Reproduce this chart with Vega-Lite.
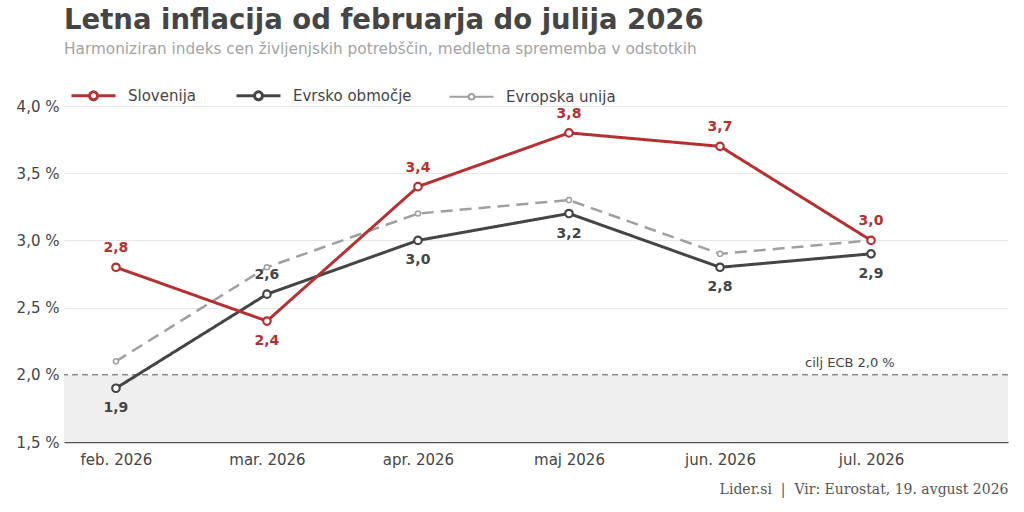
{
  "$schema": "https://vega.github.io/schema/vega-lite/v6.json",
  "width": 944,
  "height": 336,
  "autosize": {"type": "none"},
  "padding": {"left": 64, "top": 106, "right": 16, "bottom": 70},
  "title": {
    "text": "Letna inflacija od februarja do julija 2026",
    "subtitle": "Harmoniziran indeks cen življenjskih potrebščin, medletna sprememba v odstotkih",
    "anchor": "start",
    "frame": "group",
    "font": "DejaVu Sans",
    "fontSize": 27.5,
    "fontWeight": "bold",
    "color": "#454545",
    "subtitleFont": "DejaVu Sans",
    "subtitleFontSize": 15.3,
    "subtitleColor": "#a3a3a3",
    "subtitlePadding": 7,
    "offset": 31
  },
  "config": {
    "view": {"stroke": null},
    "font": "DejaVu Sans",
    "locale": {
      "number": {"decimal": ",", "thousands": ".", "grouping": [3], "currency": ["", " €"]}
    }
  },
  "datasets": {
    "series": [
      {"series": "Evropska unija", "month": "feb. 2026", "i": 0, "v": 2.1},
      {"series": "Evropska unija", "month": "mar. 2026", "i": 1, "v": 2.8},
      {"series": "Evropska unija", "month": "apr. 2026", "i": 2, "v": 3.2},
      {"series": "Evropska unija", "month": "maj 2026", "i": 3, "v": 3.3},
      {"series": "Evropska unija", "month": "jun. 2026", "i": 4, "v": 2.9},
      {"series": "Evropska unija", "month": "jul. 2026", "i": 5, "v": 3.0},
      {"series": "Evrsko območje", "month": "feb. 2026", "i": 0, "v": 1.9},
      {"series": "Evrsko območje", "month": "mar. 2026", "i": 1, "v": 2.6},
      {"series": "Evrsko območje", "month": "apr. 2026", "i": 2, "v": 3.0},
      {"series": "Evrsko območje", "month": "maj 2026", "i": 3, "v": 3.2},
      {"series": "Evrsko območje", "month": "jun. 2026", "i": 4, "v": 2.8},
      {"series": "Evrsko območje", "month": "jul. 2026", "i": 5, "v": 2.9},
      {"series": "Slovenija", "month": "feb. 2026", "i": 0, "v": 2.8},
      {"series": "Slovenija", "month": "mar. 2026", "i": 1, "v": 2.4},
      {"series": "Slovenija", "month": "apr. 2026", "i": 2, "v": 3.4},
      {"series": "Slovenija", "month": "maj 2026", "i": 3, "v": 3.8},
      {"series": "Slovenija", "month": "jun. 2026", "i": 4, "v": 3.7},
      {"series": "Slovenija", "month": "jul. 2026", "i": 5, "v": 3.0}
    ],
    "band": [{"lo": 1.5, "hi": 2.0, "note": "cilj ECB 2,0 %", "nx": 4.86}]
  },
  "layer": [
    {
      "data": {"name": "band"},
      "mark": {"type": "rect", "fill": "#efefef"},
      "encoding": {
        "y": {"field": "lo", "type": "quantitative", "scale": {"domain": [1.5, 4.0]}},
        "y2": {"field": "hi"}
      }
    },
    {
      "data": {"name": "band"},
      "mark": {"type": "rule", "stroke": "#555555", "strokeWidth": 1, "strokeDash": [6, 4]},
      "encoding": {
        "y": {"field": "hi", "type": "quantitative"}
      }
    },
    {
      "data": {"name": "band"},
      "mark": {"type": "text", "fontSize": 13, "color": "#454545", "align": "center", "baseline": "bottom", "dy": -5},
      "encoding": {
        "x": {"field": "nx", "type": "quantitative"},
        "y": {"field": "hi", "type": "quantitative"},
        "text": {"field": "note"}
      }
    },
    {
      "data": {"name": "series"},
      "mark": {"type": "line", "strokeCap": "butt", "strokeJoin": "round"},
      "encoding": {
        "x": {
          "field": "i",
          "type": "quantitative",
          "scale": {"domain": [-0.344, 5.907], "nice": false, "zero": false},
          "axis": {
            "values": [0, 1, 2, 3, 4, 5],
            "labelExpr": "['feb. 2026','mar. 2026','apr. 2026','maj 2026','jun. 2026','jul. 2026'][datum.value]",
            "grid": false,
            "ticks": false,
            "domainColor": "#555555",
            "domainWidth": 1.5,
            "labelFontSize": 15,
            "labelColor": "#454545",
            "labelPadding": 10,
            "title": "Lider.si\u00a0\u00a0|\u00a0\u00a0Vir: Eurostat, 19. avgust 2026",
            "titleAnchor": "end",
            "titleFont": "DejaVu Serif",
            "titleFontSize": 14,
            "titleFontWeight": "normal",
            "titleColor": "#555555",
            "titlePadding": 15
          }
        },
        "y": {
          "field": "v",
          "type": "quantitative",
          "scale": {"domain": [1.5, 4.0], "nice": false, "zero": false},
          "axis": {
            "values": [1.5, 2.0, 2.5, 3.0, 3.5, 4.0],
            "format": ".1f",
            "labelExpr": "datum.label + ' %'",
            "domain": false,
            "ticks": false,
            "gridColor": "#e6e6e6",
            "gridWidth": 1,
            "labelFontSize": 15,
            "labelColor": "#454545",
            "labelPadding": 5,
            "title": null
          }
        },
        "color": {
          "field": "series",
          "type": "nominal",
          "scale": {
            "domain": ["Slovenija", "Evrsko območje", "Evropska unija"],
            "range": ["#b53131", "#454545", "#a0a0a0"]
          },
          "legend": {
            "title": null,
            "orient": "none",
            "legendX": 22,
            "legendY": -18,
            "direction": "horizontal",
            "symbolType": "M-1,0H-0.18M0.18,0H1M-0.18,0A0.18,0.18,0,1,1,0.18,0A0.18,0.18,0,1,1,-0.18,0",
            "symbolSize": 1936,
            "symbolStrokeWidth": 3,
            "symbolFillColor": "white",
            "labelFontSize": 15,
            "labelColor": "#454545",
            "labelOffset": 27,
            "columnPadding": 33,
            "encode": {
              "symbols": {
                "update": {
                  "shape": {"signal": "datum.value === 'Evropska unija' ? 'M-1,0H-0.13M0.13,0H1M-0.13,0A0.13,0.13,0,1,1,0.13,0A0.13,0.13,0,1,1,-0.13,0' : 'M-1,0H-0.18M0.18,0H1M-0.18,0A0.18,0.18,0,1,1,0.18,0A0.18,0.18,0,1,1,-0.18,0'"},
                  "strokeWidth": {"signal": "datum.value === 'Evropska unija' ? 2 : 3"}
                }
              }
            }
          }
        },
        "strokeWidth": {
          "condition": {"test": "datum.series === 'Evropska unija'", "value": 2.5},
          "value": 3
        },
        "strokeDash": {
          "condition": {"test": "datum.series === 'Evropska unija'", "value": [12, 7]},
          "value": [1, 0]
        }
      }
    },
    {
      "data": {"name": "series"},
      "mark": {"type": "point", "shape": "circle", "fill": "white", "filled": true, "opacity": 1},
      "encoding": {
        "x": {"field": "i", "type": "quantitative"},
        "y": {"field": "v", "type": "quantitative"},
        "stroke": {
          "condition": [
            {"test": "datum.series === 'Slovenija'", "value": "#b53131"},
            {"test": "datum.series === 'Evropska unija'", "value": "#a0a0a0"}
          ],
          "value": "#454545"
        },
        "size": {
          "condition": {"test": "datum.series === 'Evropska unija'", "value": 26},
          "value": 56
        },
        "strokeWidth": {
          "condition": {"test": "datum.series === 'Evropska unija'", "value": 1.5},
          "value": 2.2
        }
      }
    },
    {
      "data": {"name": "series"},
      "transform": [
        {"filter": "(datum.series === 'Slovenija' && datum.i !== 1) || (datum.series === 'Evrsko območje' && datum.i === 1)"}
      ],
      "mark": {"type": "text", "fontSize": 14, "fontWeight": "bold", "baseline": "middle", "dy": -19},
      "encoding": {
        "x": {"field": "i", "type": "quantitative"},
        "y": {"field": "v", "type": "quantitative"},
        "text": {"field": "v", "type": "quantitative", "format": ".1f"},
        "color": {
          "condition": {"test": "datum.series === 'Slovenija'", "value": "#b53131"},
          "value": "#454545"
        }
      }
    },
    {
      "data": {"name": "series"},
      "transform": [
        {"filter": "(datum.series === 'Slovenija' && datum.i === 1) || (datum.series === 'Evrsko območje' && datum.i !== 1)"}
      ],
      "mark": {"type": "text", "fontSize": 14, "fontWeight": "bold", "baseline": "middle", "dy": 20},
      "encoding": {
        "x": {"field": "i", "type": "quantitative"},
        "y": {"field": "v", "type": "quantitative"},
        "text": {"field": "v", "type": "quantitative", "format": ".1f"},
        "color": {
          "condition": {"test": "datum.series === 'Slovenija'", "value": "#b53131"},
          "value": "#454545"
        }
      }
    }
  ]
}
